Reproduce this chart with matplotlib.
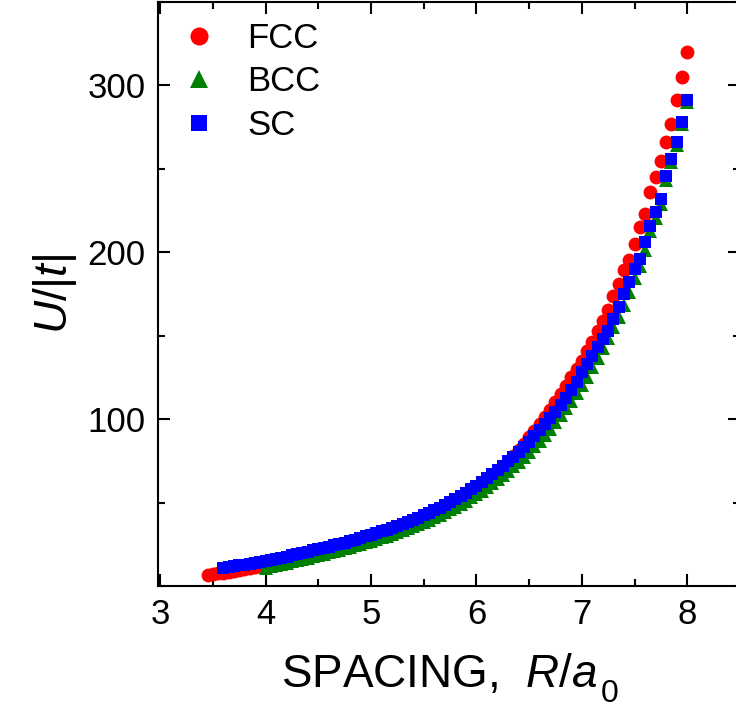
"""
U/|t| vs spacing for FCC / BCC / SC lattices
"""

import matplotlib
matplotlib.use("Agg")
import matplotlib.pyplot as plt
from matplotlib.ticker import MultipleLocator, FixedLocator

# 字体设置 (Arial-like)
plt.rcParams['font.family'] = ['Liberation Sans', 'DejaVu Sans']
plt.rcParams['mathtext.fontset'] = 'custom'
plt.rcParams['mathtext.rm'] = 'Liberation Sans'
plt.rcParams['mathtext.it'] = 'Liberation Sans:italic'

W, H = 736, 711

# 数据: spacing grid (R/a0), step 0.05
spacing = [3.45, 3.50, 3.55, 3.60, 3.65, 3.70, 3.75, 3.80, 3.85, 3.90, 3.95,
           4.00, 4.05, 4.10, 4.15, 4.20, 4.25, 4.30, 4.35, 4.40, 4.45,
           4.50, 4.55, 4.60, 4.65, 4.70, 4.75, 4.80, 4.85, 4.90, 4.95,
           5.00, 5.05, 5.10, 5.15, 5.20, 5.25, 5.30, 5.35, 5.40, 5.45,
           5.50, 5.55, 5.60, 5.65, 5.70, 5.75, 5.80, 5.85, 5.90, 5.95,
           6.00, 6.05, 6.10, 6.15, 6.20, 6.25, 6.30, 6.35, 6.40, 6.45,
           6.50, 6.55, 6.60, 6.65, 6.70, 6.75, 6.80, 6.85, 6.90, 6.95,
           7.00, 7.05, 7.10, 7.15, 7.20, 7.25, 7.30, 7.35, 7.40, 7.45,
           7.50, 7.55, 7.60, 7.65, 7.70, 7.75, 7.80, 7.85, 7.90, 7.95,
           8.00]

# FCC: 3.45 .. 8.00
fcc_u = [6.6, 7.0, 7.5, 8.0, 8.5, 9.0, 9.6, 10.2, 10.8, 11.4, 12.0,
         12.6, 13.2, 13.9, 14.6, 15.3, 16.0, 16.7, 17.4, 18.1, 18.8,
         19.6, 20.4, 21.2, 22.0, 22.9, 23.8, 24.7, 25.6, 26.6, 27.6,
         28.6, 29.6, 30.7, 31.8, 32.9, 34.1, 35.3, 36.6, 37.9, 39.3,
         40.7, 42.2, 43.8, 45.4, 47.1, 48.9, 50.7, 52.6, 54.6, 56.7,
         58.9, 61.2, 63.6, 66.1, 68.7, 71.4, 74.5, 78.0, 81.5, 85.0,
         89.0, 93.0, 97.0, 101.0, 105.5, 110.0, 115.0, 120.0, 125.0, 130.0,
         135.0, 141.0, 146.5, 153.0, 159.0, 165.5, 174.0, 181.0, 189.5, 195.5,
         205.0, 215.0, 223.0, 236.0, 245.0, 255.0, 266.0, 277.0, 291.0, 305.0,
         320.0]

# BCC: 4.00 .. 8.00
bcc_u = [11.0, 11.7, 12.5, 13.3, 14.0, 14.8, 15.5, 16.2, 17.0, 17.8,
         18.5, 19.3, 20.1, 20.9, 21.7, 22.5, 23.4, 24.3, 25.2, 26.2,
         27.2, 28.2, 29.2, 30.2, 31.3, 32.4, 33.5, 34.7, 35.9, 37.1,
         38.4, 39.8, 41.2, 42.7, 44.3, 45.9, 47.6, 49.4, 51.2, 53.1,
         55.1, 57.2, 59.4, 61.7, 64.0, 66.4, 69.0, 71.7, 74.5, 77.4,
         80.5, 83.7, 87.1, 90.6, 94.3, 98.2, 102.2, 106.4, 110.9, 115.6,
         120.5, 125.5, 131.0, 136.5, 142.5, 148.5, 155.0, 161.5, 168.5, 176.0,
         184.5, 191.5, 201.5, 212.5, 220.5, 229.0, 243.5, 254.0, 264.5, 277.0,
         290.0]

# SC: 3.60 .. 8.00
sc_u = [11.0, 11.4, 11.9, 12.3, 12.8, 13.3, 13.8, 14.3,
        14.9, 15.5, 16.2, 16.9, 17.6, 18.3, 19.0, 19.7, 20.5, 21.3,
        22.0, 22.8, 23.6, 24.4, 25.2, 26.0, 26.9, 27.8, 28.7, 29.7,
        30.7, 31.7, 32.7, 33.8, 34.9, 36.0, 37.2, 38.4, 39.7, 41.0,
        42.4, 43.9, 45.4, 47.0, 48.7, 50.4, 52.2, 54.1, 56.0, 58.0,
        60.1, 62.3, 64.6, 67.0, 69.4, 72.0, 74.7, 77.5, 80.4, 83.4,
        86.5, 89.8, 93.2, 96.8, 100.5, 104.4, 108.5, 112.8, 117.3, 122.0,
        128.0, 133.0, 138.0, 143.5, 148.0, 153.0, 160.0, 167.0, 175.0, 182.0,
        190.0, 196.0, 206.0, 216.0, 224.0, 232.0, 246.0, 256.0, 266.0, 278.0,
        291.0]

y_ticks = [100, 200, 300]

fcc_x = spacing[:len(fcc_u)]
bcc_x = spacing[spacing.index(4.00):]
sc_x = spacing[spacing.index(3.60):]

fig = plt.figure(figsize=(W / 100, H / 100), dpi=100)
ax = fig.add_axes([158 / W, 125 / H, 582 / W, 584 / H])

ax.plot(fcc_x, fcc_u, 'o', color='#ff0000', markersize=10, markeredgewidth=0, label='FCC')
ax.plot(bcc_x, bcc_u, '^', color='#008000', markersize=10.5, markeredgewidth=0, label='BCC')
ax.plot(sc_x, sc_u, 's', color='#0000ff', markersize=9, markeredgewidth=0, label='SC')

ax.set_xlim(2.98, 8.5)
ax.set_ylim(0, 350)
ax.xaxis.set_major_locator(MultipleLocator(1))
ax.xaxis.set_minor_locator(MultipleLocator(0.5))
ax.yaxis.set_major_locator(FixedLocator(y_ticks))
ax.yaxis.set_minor_locator(MultipleLocator(50))

ax.tick_params(which='both', direction='in', top=True, right=True, width=1.5, labelsize=25)
ax.tick_params(which='major', length=8.6, pad=9)
ax.tick_params(which='minor', length=5)
for sp in ax.spines.values():
    sp.set_linewidth(1.5)

# x 轴标签: 下标 0 单独放置 (原图下标较大且偏低)
fig.text(598 / W, (H - 687) / H, r'SPACING,  $R/a$', fontsize=33,
         ha='right', va='baseline')
fig.text(601 / W, (H - 702) / H, '0', fontsize=23, ha='left', va='baseline')

ax.set_ylabel(r'$U/|t|$', fontsize=33, labelpad=6)

ax.legend(loc='upper left', bbox_to_anchor=(0.040, 0.966), frameon=False, fontsize=25,
          numpoints=1, markerscale=1.3, handlelength=1.0, handletextpad=0.9,
          labelspacing=0.3, borderpad=0, borderaxespad=0)

fig.savefig('out.png', dpi=100)
